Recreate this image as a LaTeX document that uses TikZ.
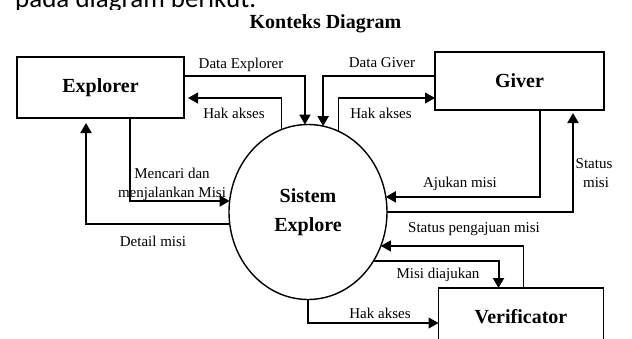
\documentclass[tikz,border=0pt]{standalone}
\usepackage{fontspec}
\setmainfont{Liberation Serif}
\newfontfamily\notefont{Carlito}
\usetikzlibrary{arrows.meta,calc,shapes.geometric}

\begin{document}
\begin{tikzpicture}[x=1pt,y=-1pt,
  box/.style={draw, line width=1.4pt, inner sep=0pt, outer sep=0pt,
    font=\fontsize{20}{24}\selectfont\bfseries},
  flow/.style={line width=2pt, -{Triangle[length=10pt,width=11pt]}},
  thinflow/.style={line width=1.1pt, -{Triangle[length=10pt,width=11pt]}},
  lbl/.style={anchor=base, inner sep=0pt, font=\fontsize{15}{20}\selectfont},
]
\clip (0,0) rectangle (632,338);

% line of running text above the diagram
\begin{scope}
  \clip (0,0) rectangle (632,9.5);
  \node[anchor=base west, inner sep=0pt, font=\notefont\fontsize{27}{32}\selectfont]
    (intro) at (15,7.5) {pada diagram berikut.};
\end{scope}

% title
\node[anchor=base, inner sep=0pt, font=\fontsize{20}{24}\selectfont\bfseries]
  (title) at (325.5,28) {Konteks Diagram};

% external entities
\node[box, minimum width=167pt, minimum height=61pt] (explorer) at (100.5,87.5) {Explorer};
\node[box, minimum width=169pt, minimum height=58pt] (giver) at (519.5,81) {Giver};
\node[box, minimum width=165pt, minimum height=57pt] (verif) at (521,316.5) {Verificator};

% the process
\node[ellipse, draw, line width=1.4pt, minimum width=158pt, minimum height=175pt,
  inner sep=0pt, outer sep=0pt, align=center,
  font=\fontsize{20}{29}\selectfont\bfseries] (sys) at (308,212) {Sistem\\Explore};

% data flows
\draw[flow] ($(explorer.north east)+(0,19)$) -| (sys.92.6);
\draw[thinflow, shorten >=4pt] (sys.108.2) |- ($(explorer.north east)+(0,41)$);
\draw[flow] ($(giver.north west)+(0,24)$) -| (sys.80.76);
\draw[thinflow] (sys.69.65) |- ($(giver.north west)+(0,46)$);
\draw[flow] ($(explorer.south west)+(113,0)$) |- (sys.172.7);
\draw[flow, shorten >=5pt] (sys.189.5) -| ($(explorer.south west)+(69,0)$);
\draw[flow] ($(giver.south west)+(105,0)$) |- (sys.11.6);
\draw[flow, shorten >=3pt] (sys.-0.7) -| ($(giver.south west)+(138,0)$);
\draw[thinflow] ($(verif.north west)+(85,0)$) |- (sys.-25);
\draw[flow] (sys.-37.7) -| ($(verif.north west)+(60,0)$);
\draw[thinflow] (sys.south) |- ($(verif.north west)+(0,35)$);

% flow labels
\node[lbl] (lDataExp) at (241,68) {Data Explorer};
\node[lbl] (lHak1) at (234,118) {Hak akses};
\node[lbl] (lDataGiv) at (382,67) {Data Giver};
\node[lbl] (lHak2) at (381,118) {Hak akses};
\node[lbl] (lCari1) at (172,178) {Mencari dan};
\node[lbl] (lCari2) at (172,197) {menjalankan Misi};
\node[lbl] (lDetail) at (153,246) {Detail misi};
\node[lbl] (lAjukan) at (460,187) {Ajukan misi};
\node[lbl] (lStat1) at (594,168) {Status};
\node[lbl] (lStat2) at (596,187) {misi};
\node[lbl] (lStatAju) at (474,232) {Status pengajuan misi};
\node[lbl] (lMisiAju) at (438,278) {Misi diajukan};
\node[lbl] (lHak3) at (380,318) {Hak akses};
\end{tikzpicture}
\end{document}
